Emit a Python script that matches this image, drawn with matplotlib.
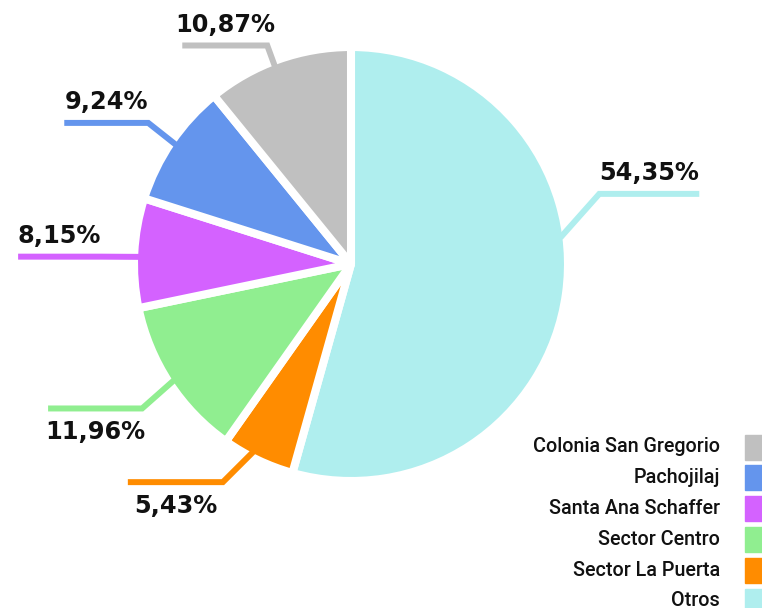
import numpy as np
import matplotlib.pyplot as plt
from matplotlib.patches import Rectangle

# data (clockwise from the top)
labels = ["Otros", "Sector La Puerta", "Sector Centro",
          "Santa Ana Schaffer", "Pachojilaj", "Colonia San Gregorio"]
values = [54.35, 5.43, 11.96, 8.15, 9.24, 10.87]
colors = ["#AFEEEE", "#FF8C00", "#90EE90", "#D462FF", "#6495ED", "#C0C0C0"]

# figure in pixel units (y up)
W, H = 762, 608
fig = plt.figure(figsize=(W / 100, H / 100), dpi=100)
ax = fig.add_axes([0, 0, 1, 1])

cx, cy, R = 351, H - 264, 217

wedges, _ = ax.pie(values, colors=colors, startangle=90, counterclock=False,
                   center=(cx, cy), radius=R,
                   wedgeprops=dict(edgecolor="white", linewidth=5.8,
                                   joinstyle="round"))

# label layout tweaks per slice
nudge_anchor = [15, -2, 0, 1, 0, 1.5]
nudge_elbow = [23.6, -5, 1.4, 1.25, -0.6, 1.4]
r_elbow = [258, 253, 254, 250, 247, 234]
hlen = [100, 95, 94, 83, 84, 85]
r_in = 211

for w, v, col, na, ne, re, hl in zip(wedges, values, colors, nudge_anchor,
                                      nudge_elbow, r_elbow, hlen):
    mid = (w.theta1 + w.theta2) / 2
    a1 = np.deg2rad(mid + na)
    a2 = np.deg2rad(mid + ne)
    x0, y0 = cx + r_in * np.cos(a1), cy + r_in * np.sin(a1)
    x1, y1 = cx + re * np.cos(a2), cy + re * np.sin(a2)
    side = 1 if np.cos(a2) > 0 else -1
    x2 = x1 + side * hl
    ax.plot([x0, x1, x2], [y0, y1, y1], color=col, lw=4.3,
            solid_capstyle="butt", solid_joinstyle="miter", zorder=1)
    txt = f"{v:.2f}".replace(".", ",") + "%"
    if y1 > cy - 20:
        ax.text((x1 + x2) / 2, y1 + 13.5, txt, ha="center", va="baseline",
                fontsize=17.3, fontweight="bold", color="#111111")
    else:
        ax.text((x1 + x2) / 2, y1 - 12, txt, ha="center", va="top",
                fontsize=17.3, fontweight="bold", color="#111111")

# legend (drawn bottom-right, reversed order)
for i, (lab, col) in enumerate(zip(labels[::-1], colors[::-1])):
    yc = H - (447 + i * 30.8)
    ax.add_patch(Rectangle((745, yc - 12.5), 20, 25, color=col, clip_on=False))
    ax.text(720, yc, lab, ha="right", va="center", fontsize=14.2,
            family="Roboto", fontweight="medium", color="#111111")

ax.set_xlim(0, W)
ax.set_ylim(0, H)
ax.set_aspect("equal")
ax.axis("off")

plt.savefig("out.png", dpi=100)
